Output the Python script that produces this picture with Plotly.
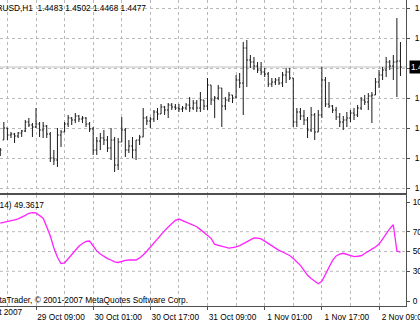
import plotly.graph_objects as go

# ---------------- data (EURUSD H1) ----------------
bar_idx = list(range(113))
opens = [1.4390,1.4404,1.4416,1.4409,1.4410,1.4408,1.4411,1.4413,1.4422,1.4419,
         1.4417,1.4420,1.4414,1.4418,1.4410,1.4386,1.4384,1.4409,1.4412,1.4420,
         1.4426,1.4424,1.4428,1.4425,1.4426,1.4420,1.4415,1.4394,1.4403,1.4406,
         1.4404,1.4396,1.4404,1.4379,1.4402,1.4414,1.4394,1.4398,1.4394,1.4404,
         1.4407,1.4426,1.4423,1.4425,1.4432,1.4430,1.4437,1.4434,1.4439,1.4437,
         1.4436,1.4435,1.4436,1.4439,1.4436,1.4441,1.4436,1.4444,1.4438,1.4459,
         1.4444,1.4446,1.4456,1.4438,1.4444,1.4449,1.4447,1.4464,1.4461,1.4496,
         1.4484,1.4482,1.4478,1.4474,1.4472,1.4470,1.4460,1.4462,1.4464,1.4461,
         1.4469,1.4472,1.4466,1.4422,1.4432,1.4428,1.4424,1.4414,1.4429,1.4412,
         1.4429,1.4464,1.4440,1.4438,1.4434,1.4427,1.4422,1.4424,1.4426,1.4431,
         1.4429,1.4436,1.4444,1.4442,1.4448,1.4449,1.4462,1.4469,1.4474,1.4482,
         1.4478,1.4482,1.4483]
highs = [1.4396,1.4422,1.4416,1.4412,1.4411,1.4412,1.4414,1.4424,1.4426,1.4421,
         1.4436,1.4422,1.4422,1.4419,1.4412,1.4394,1.4416,1.4414,1.4422,1.4429,
         1.4427,1.4431,1.4429,1.4428,1.4427,1.4422,1.4417,1.4407,1.4411,1.4414,
         1.4408,1.4416,1.4407,1.4406,1.4427,1.4416,1.4404,1.4407,1.4404,1.4409,
         1.4436,1.4428,1.4427,1.4434,1.4436,1.4440,1.4438,1.4441,1.4441,1.4440,
         1.4440,1.4438,1.4441,1.4447,1.4444,1.4444,1.4452,1.4444,1.4466,1.4459,
         1.4448,1.4459,1.4456,1.4447,1.4452,1.4449,1.4469,1.4471,1.4502,1.4504,
         1.4489,1.4487,1.4482,1.4482,1.4476,1.4472,1.4466,1.4466,1.4467,1.4472,
         1.4476,1.4476,1.4466,1.4436,1.4436,1.4434,1.4427,1.4437,1.4431,1.4434,
         1.4477,1.4467,1.4462,1.4439,1.4437,1.4431,1.4428,1.4432,1.4434,1.4436,
         1.4439,1.4447,1.4449,1.4451,1.4452,1.4466,1.4474,1.4477,1.4487,1.4484,
         1.4489,1.4526,1.4502]
lows = [1.4388,1.4404,1.4404,1.4406,1.4401,1.4406,1.4407,1.4412,1.4417,1.4407,
        1.4416,1.4407,1.4406,1.4406,1.4382,1.4379,1.4377,1.4397,1.4412,1.4417,
        1.4419,1.4421,1.4422,1.4421,1.4417,1.4412,1.4389,1.4389,1.4394,1.4399,
        1.4392,1.4384,1.4372,1.4374,1.4402,1.4387,1.4391,1.4386,1.4384,1.4399,
        1.4407,1.4419,1.4416,1.4422,1.4424,1.4430,1.4429,1.4426,1.4434,1.4434,
        1.4432,1.4432,1.4434,1.4432,1.4434,1.4432,1.4432,1.4434,1.4434,1.4439,
        1.4426,1.4444,1.4417,1.4434,1.4442,1.4441,1.4446,1.4456,1.4429,1.4457,
        1.4476,1.4474,1.4471,1.4469,1.4467,1.4457,1.4457,1.4459,1.4459,1.4457,
        1.4461,1.4464,1.4417,1.4417,1.4424,1.4419,1.4406,1.4412,1.4404,1.4412,
        1.4426,1.4437,1.4436,1.4431,1.4424,1.4417,1.4414,1.4417,1.4422,1.4424,
        1.4427,1.4434,1.4439,1.4434,1.4421,1.4449,1.4456,1.4464,1.4467,1.4474,
        1.4464,1.4447,1.4468]
closes = [1.4394,1.4416,1.4409,1.4410,1.4408,1.4411,1.4413,1.4422,1.4419,1.4417,
          1.4420,1.4414,1.4418,1.4410,1.4386,1.4384,1.4409,1.4412,1.4420,1.4426,
          1.4424,1.4428,1.4425,1.4426,1.4420,1.4415,1.4394,1.4403,1.4406,1.4404,
          1.4396,1.4404,1.4379,1.4402,1.4414,1.4394,1.4398,1.4394,1.4404,1.4407,
          1.4426,1.4423,1.4425,1.4432,1.4430,1.4437,1.4434,1.4439,1.4437,1.4436,
          1.4435,1.4436,1.4439,1.4436,1.4441,1.4436,1.4444,1.4438,1.4459,1.4444,
          1.4446,1.4456,1.4438,1.4444,1.4449,1.4446,1.4464,1.4461,1.4496,1.4484,
          1.4482,1.4478,1.4474,1.4472,1.4470,1.4460,1.4462,1.4464,1.4461,1.4469,
          1.4472,1.4466,1.4422,1.4432,1.4428,1.4424,1.4414,1.4429,1.4412,1.4429,
          1.4464,1.4440,1.4438,1.4434,1.4427,1.4422,1.4424,1.4426,1.4431,1.4429,
          1.4436,1.4444,1.4442,1.4448,1.4449,1.4462,1.4469,1.4474,1.4482,1.4478,
          1.4482,1.4483,1.4477]
rsi = [78.6,79.3,80.2,81.1,82.0,83.0,84.5,86.5,88.6,89.2,
       89.0,86.5,83.6,75.0,65.7,53.5,44.2,37.8,38.6,42.7,
       46.8,51.1,55.3,58.1,60.2,60.6,56.0,50.6,47.5,45.2,
       42.8,41.4,39.6,38.9,40.0,41.1,41.4,41.4,41.4,43.5,
       46.4,50.3,54.5,59.0,63.5,67.6,71.1,74.8,78.1,81.5,
       82.8,81.3,80.3,78.6,76.8,75.0,72.1,69.2,66.4,63.3,
       57.2,56.2,55.3,54.1,53.4,54.0,54.6,56.0,58.0,59.8,
       62.1,63.8,63.5,62.8,60.5,58.2,55.7,53.2,51.1,49.5,
       47.8,46.0,43.0,39.5,36.0,31.0,26.0,22.8,19.8,17.5,
       20.0,27.0,35.5,41.0,45.5,47.3,48.2,47.0,45.6,44.8,
       45.2,45.7,48.0,50.6,52.4,54.6,57.6,62.6,68.0,73.0,
       77.0,50.5,49.3617]

time_tick_pos = [10, 26, 42, 58, 74, 90, 106]
time_tick_text = ["29 Oct 09:00", "30 Oct 01:00", "30 Oct 17:00", "31 Oct 09:00",
                  "1 Nov 01:00", "1 Nov 17:00", "2 Nov 09:00"]
time_grid_minor = [2, 18, 34, 50, 66, 82, 98]
first_time_label = "26 Oct 2007"
price_ticks = [1.4356, 1.4386, 1.4416, 1.4446, 1.4476, 1.4506, 1.4536]
rsi_ticks = [0, 30, 50, 70, 100]
rsi_levels = [30, 50, 70]
symbol_title = "EURUSD,H1  1.4483 1.4502 1.4468 1.4477"
rsi_title = "RSI(14) 49.3617"
copyright_text = "MetaTrader, \u00a9 2001-2007 MetaQuotes Software Corp."
last_price = 1.4477

# ---------------- figure ----------------
FONT = "Liberation Sans, Arial, sans-serif"
W, H = 420, 323
ML, MR, MT, MB = 0, 14, 0, 17
plot_w = W - ML - MR
plot_h = H - MT - MB
main_dom = [(plot_h - 193) / plot_h, 1.0]
ind_dom = [0.0, (plot_h - 195) / plot_h]

grid_col = "#b9b9b9"
line_col = "#505050"
grid_dash = "3px,3px"

# the price label under the current-price marker is hidden, as in the terminal
price_text = ["" if abs(v - last_price) < 0.0005 else "%.4f" % v for v in price_ticks]

fig = go.Figure()
fig.add_trace(go.Ohlc(
    x=bar_idx, open=opens, high=highs, low=lows, close=closes,
    xaxis="x", yaxis="y",
    increasing=dict(line=dict(color="#1a1a1a", width=1)),
    decreasing=dict(line=dict(color="#1a1a1a", width=1)),
    tickwidth=0.35, hoverinfo="skip", showlegend=False))
fig.add_trace(go.Scatter(
    x=bar_idx, y=rsi, xaxis="x2", yaxis="y2", mode="lines",
    line=dict(color="#ff22ff", width=1.3), hoverinfo="skip", showlegend=False))

xr = [-0.076, 113.55]
fig.update_layout(
    width=W, height=H, margin=dict(l=ML, r=MR, t=MT, b=MB, autoexpand=False),
    paper_bgcolor="white", plot_bgcolor="white",
    font=dict(family=FONT, size=8.3, color="black"),
    showlegend=False,
    xaxis=dict(domain=[0, 1], range=xr, anchor="y", rangeslider=dict(visible=False),
               automargin=False,
               tickmode="array", tickvals=time_grid_minor + time_tick_pos,
               showticklabels=False, ticks="", showgrid=True, gridcolor=grid_col,
               griddash=grid_dash, gridwidth=1, zeroline=False,
               showline=True, mirror=True, linecolor=line_col, linewidth=1),
    yaxis=dict(domain=main_dom, range=[1.4351, 1.4544], anchor="x", side="right",
               automargin=False,
               tickmode="array", tickvals=price_ticks, ticktext=price_text,
               ticks="outside", ticklen=3, tickcolor=line_col,
               ticklabeloverflow="allow", ticklabelstandoff=3,
               showgrid=True, gridcolor=grid_col, griddash=grid_dash, zeroline=False,
               showline=True, linecolor=line_col, linewidth=1),
    xaxis2=dict(domain=[0, 1], range=xr, anchor="y2", matches="x",
                automargin=False,
                tickmode="array", tickvals=time_tick_pos, ticktext=time_tick_text,
                ticks="outside", ticklen=3, tickcolor=line_col,
                ticklabelshift=25, ticklabeloverflow="allow",
                showgrid=True, gridcolor=grid_col, griddash=grid_dash, zeroline=False,
                minor=dict(tickmode="array", tickvals=time_grid_minor, showgrid=True,
                           gridcolor=grid_col, griddash=grid_dash, ticks=""),
                showline=True, mirror=True, linecolor=line_col, linewidth=1),
    yaxis2=dict(domain=ind_dom, range=[-5.05, 107.07], anchor="x2", side="right",
                automargin=False,
                tickmode="array", tickvals=rsi_ticks,
                ticks="outside", ticklen=3, tickcolor=line_col,
                ticklabeloverflow="allow", ticklabelstandoff=1,
                showgrid=False, zeroline=False,
                showline=True, linecolor=line_col, linewidth=1),
)

for lv in rsi_levels:
    fig.add_shape(type="line", xref="x2 domain", yref="y2", x0=0, x1=1, y0=lv, y1=lv,
                  line=dict(color=grid_col, width=1, dash=grid_dash), layer="below")

fig.add_shape(type="line", xref="x domain", yref="y", x0=0, x1=1,
              y0=last_price, y1=last_price, line=dict(color="#c0c0c0", width=1.2),
              layer="below")

def px_x(p):
    return p / plot_w

def px_y(p):
    return 1 - p / plot_h

fig.add_annotation(text=symbol_title, xref="paper", yref="paper", x=px_x(-17.5),
                   y=px_y(8), xanchor="left", yanchor="middle", showarrow=False,
                   font=dict(size=8.3, family=FONT))
fig.add_annotation(text=rsi_title, xref="paper", yref="paper", x=px_x(-19.5),
                   y=px_y(205), xanchor="left", yanchor="middle", showarrow=False,
                   font=dict(size=8.3, family=FONT))
fig.add_annotation(text=copyright_text, xref="paper", yref="paper", x=px_x(-14),
                   y=px_y(300), xanchor="left", yanchor="middle", showarrow=False,
                   font=dict(size=8.3, family=FONT))
fig.add_annotation(text=first_time_label, xref="paper", yref="paper", x=px_x(25),
                   y=px_y(312), xanchor="right", yanchor="middle", showarrow=False,
                   font=dict(size=8.3, family=FONT))
fig.add_annotation(text="%.4f" % last_price, xref="paper", yref="y", x=1, xshift=3,
                   y=last_price, xanchor="left", yanchor="middle", showarrow=False,
                   bgcolor="black", borderpad=1,
                   font=dict(size=8.3, family=FONT, color="white"))

fig.write_html("out.html")
